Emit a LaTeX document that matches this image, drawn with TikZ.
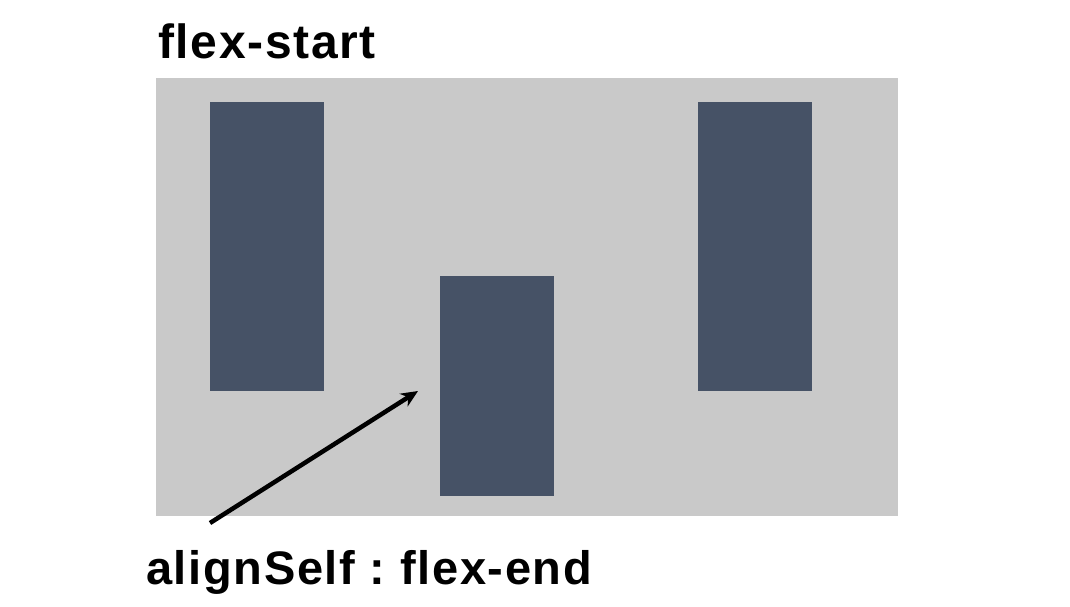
\documentclass[tikz,border=0pt]{standalone}
\usepackage{fontspec}
\setmainfont{Liberation Sans}
\newfontfamily\labelfont{Liberation Sans}[LetterSpace=3.5]
\usetikzlibrary{arrows.meta}
\definecolor{panel}{HTML}{C9C9C9}
\definecolor{bar}{HTML}{465266}
\frenchspacing
\begin{document}
\begin{tikzpicture}[x=1pt,y=-1pt,
  barbox/.style={fill=bar,draw=none},
  label/.style={font=\labelfont\fontsize{48}{52}\selectfont\bfseries,inner sep=0pt,anchor=base west},
  pointer/.style={line width=4.5pt,-{Stealth[length=17pt,width=15pt]}}]
\useasboundingbox[fill=white] (0,0) rectangle (1070,606);
\fill[panel] (156,78) rectangle (898,516);
\path[barbox] (210,102) rectangle (324,391);
\path[barbox] (440,276) rectangle (554,496);
\path[barbox] (698,102) rectangle (812,391);
\node[label] (title) at (158,58) {flex-start};
\node[label,font=\labelfont\fontsize{47}{51}\selectfont\bfseries] (note) at (146,584) {alignSelf : flex-end};
\coordinate (tail) at (210,523);
\coordinate (head) at (418,391);
\draw[pointer] (tail) -- (head);
\end{tikzpicture}
\end{document}
